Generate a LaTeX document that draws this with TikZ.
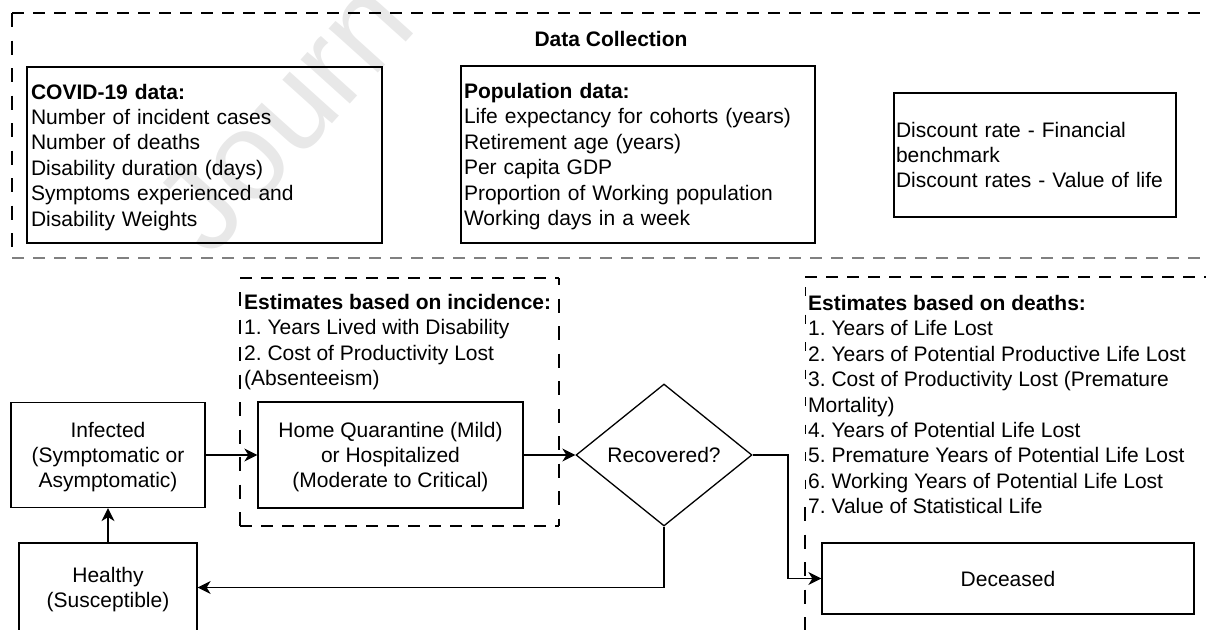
\documentclass[tikz,border=0pt]{standalone}
\usepackage{fontspec}
\setmainfont{Liberation Sans}
\usetikzlibrary{shapes.geometric,arrows.meta}
% fixed-height strut so every text line has the same box
\newcommand\ls{\rule[-4.5pt]{0pt}{24pt}}
\frenchspacing
\begin{document}
\begin{tikzpicture}[x=1pt, y=-1pt,
  every node/.style={font=\fontsize{21}{25.4}\selectfont, text=black, inner sep=0pt},
  box/.style={draw=black, line width=1.3pt, rectangle, inner sep=0pt},
  listbox/.style={box, align=left},
  flowbox/.style={box, align=center},
  decision/.style={draw=black, line width=1.3pt, diamond, aspect=1.24, inner sep=0pt,
    minimum width=176pt, minimum height=142pt},
  flow/.style={draw=black, line width=1.3pt, -{Stealth[length=13pt,width=13pt,inset=4pt]}},
  hdash/.style={draw=black, line width=1.3pt, dash pattern=on 12pt off 9pt},
  vdash/.style={draw=black, line width=1.3pt, dash pattern=on 14pt off 13.5pt},
  tickdash/.style={draw=black, line width=1pt, dash pattern=on 9pt off 18.5pt},
  watermark/.style={text=black!9, font=\fontsize{125}{125}\selectfont, rotate=48, anchor=base west}
]
\useasboundingbox (0,0) rectangle (1206,629);

% faint background stamp, running off the top edge
\begin{scope}
  \clip (0,0) rectangle (1206,629);
  \node[watermark] (wm) at (210,260) {Journ};
\end{scope}

% ---------- data collection ----------
\draw[hdash] (12,13) -- (1230,13);
\draw[vdash] (12,13) -- (12,258);
\draw[hdash, draw=black!50] (12,258) -- (1230,258);

\node (title) at (611,39) {\textbf{Data Collection}};

\node[listbox, inner xsep=4pt, text width=347pt, minimum height=176pt] (covid) at (204.5,155)
  {\ls\textbf{COVID-19 data:}\\\ls Number of incident cases\\\ls Number of deaths\\
   \ls Disability duration (days)\\\ls Symptoms experienced and\\\ls Disability Weights};

\node[listbox, inner xsep=3pt, text width=348pt, minimum height=177pt] (pop) at (638,154.5)
  {\ls\textbf{Population data:}\\\ls Life expectancy for cohorts (years)\\\ls Retirement age (years)\\
   \ls Per capita GDP\\\ls Proportion of Working population\\\ls Working days in a week};

\node[listbox, inner xsep=2pt, text width=278pt, minimum height=124pt] (disc) at (1035,155)
  {\ls Discount rate - Financial\\\ls benchmark\\\ls Discount rates - Value of life};

% ---------- estimate groups ----------
\draw[hdash] (240,278) -- (559,278);
\draw[hdash] (240,526) -- (559,526);
\draw[vdash, dash phase=7pt] (559,278) -- (559,526);
\draw[vdash] (240,292) -- (240,526);
\node[anchor=west, align=left] (inc) at (244,340)
  {\ls\textbf{Estimates based on incidence:}\\\ls 1. Years Lived with Disability\\
   \ls 2. Cost of Productivity Lost\\\ls(Absenteeism)};

\draw[hdash] (805,277) -- (1230,277);
\draw[tickdash] (805,287) -- (805,490);
\draw[vdash] (805,507) -- (805,650);
\node[anchor=west, align=left] (dth) at (808,404.5)
  {\ls\textbf{Estimates based on deaths:}\\\ls 1. Years of Life Lost\\
   \ls 2. Years of Potential Productive Life Lost\\\ls 3. Cost of Productivity Lost (Premature\\
   \ls Mortality)\\\ls 4. Years of Potential Life Lost\\\ls 5. Premature Years of Potential Life Lost\\
   \ls 6. Working Years of Potential Life Lost\\\ls 7. Value of Statistical Life};

% ---------- flow ----------
\node[flowbox, minimum width=194pt, minimum height=105pt] (inf) at (108,455)
  {\ls Infected\\\ls(Symptomatic or\\\ls Asymptomatic)};
\node[flowbox, minimum width=265pt, minimum height=106pt] (hq) at (390.5,455)
  {\ls Home Quarantine (Mild)\\\ls or Hospitalized\\\ls(Moderate to Critical)};
\node[decision] (dia) at (664,455) {Recovered?};
\node[flowbox, minimum width=372pt, minimum height=71pt] (dec) at (1008,578.5) {Deceased};
\node[flowbox, minimum width=178pt, minimum height=89pt] (hea) at (108,587.5)
  {\ls Healthy\\\ls(Susceptible)};

\coordinate (split) at (788,455);

\draw[flow] (inf.east) -- (hq.west);
\draw[flow] (hq.east) -- (dia.west);
\draw[flow] (dia.east) -- (split) |- (dec.west);
\draw[flow] (dia.south) |- (hea.east);
\draw[flow] (hea.north) -- (inf.south);
\end{tikzpicture}
\end{document}
